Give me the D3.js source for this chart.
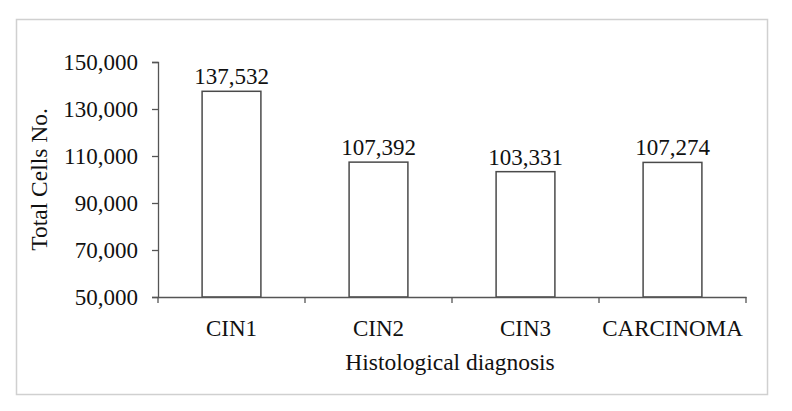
<!DOCTYPE html>
<html lang="en">
<head>
    <meta charset="UTF-8">
    <script src="https://cdn.jsdelivr.net/npm/d3@7"></script>
    <title>Total Cells No.</title>
    <style>
        body {
            margin: 0;
            background: #fff;
        }
        .axis path, .axis line {
            stroke: #555;
            stroke-width: 1.3;
        }
    </style>
</head>
<body>
<script>
    // data
    var categories = ["CIN1", "CIN2", "CIN3", "CARCINOMA"];
    var totals = [137532, 107392, 103331, 107274];
    var yTicks = [50000, 70000, 90000, 110000, 130000, 150000];

    var serif = "'Liberation Serif', 'Times New Roman', Times, 'DejaVu Serif', serif";

    var W = 792, H = 411;
    var margin = {top: 62, right: 46, bottom: 114, left: 158};
    var width = W - margin.left - margin.right,
        height = H - margin.top - margin.bottom;

    var svg = d3.select("body").append("svg")
        .attr("width", W)
        .attr("height", H)
        .attr("font-family", serif);

    // light frame round the chart
    svg.append("rect")
        .attr("x", 16.5)
        .attr("y", 19.5)
        .attr("width", 751)
        .attr("height", 375)
        .attr("fill", "none")
        .attr("stroke", "#d0d0d0")
        .attr("stroke-width", 1.5);

    var g = svg.append("g")
        .attr("transform", "translate(" + margin.left + "," + margin.top + ")");

    var x = d3.scaleBand()
        .domain(categories)
        .range([0, width])
        .padding(0);

    var y = d3.scaleLinear()
        .domain([50000, 150000])
        .range([height, 0]);

    var fmt = d3.format(",");

    // y axis
    g.append("g")
        .attr("class", "axis")
        .call(d3.axisLeft(y).tickValues(yTicks).tickFormat(fmt).tickSize(6).tickSizeOuter(6).tickPadding(14))
        .attr("font-family", serif)
        .attr("font-size", 23)
        .selectAll("text").attr("fill", "#111");

    // bars
    var barW = x.bandwidth() * 0.4;
    g.selectAll("rect.bar")
        .data(totals)
        .enter()
        .append("rect")
        .attr("class", "bar")
        .attr("x", (d, i) => x(categories[i]) + (x.bandwidth() - barW) / 2)
        .attr("y", d => y(d))
        .attr("width", barW)
        .attr("height", d => height - y(d))
        .attr("fill", "#fff")
        .attr("stroke", "#4a4a4a")
        .attr("stroke-width", 1.5);

    // value labels
    g.selectAll("text.val")
        .data(totals)
        .enter()
        .append("text")
        .attr("class", "val")
        .attr("x", (d, i) => x(categories[i]) + x.bandwidth() / 2)
        .attr("y", d => y(d) - 7)
        .attr("text-anchor", "middle")
        .attr("font-family", serif)
        .attr("font-size", 23)
        .attr("fill", "#111")
        .text(d => fmt(d));

    // x axis: labels centred, ticks on the band edges
    var xAxis = g.append("g")
        .attr("class", "axis")
        .attr("transform", "translate(0," + height + ")")
        .call(d3.axisBottom(x).tickSize(0).tickSizeOuter(0).tickPadding(18))
        .attr("font-family", serif)
        .attr("font-size", 23);
    xAxis.selectAll(".tick text").attr("dy", "0.9em").attr("fill", "#111");

    var edges = categories.map(c => x(c)).concat([width]);
    xAxis.selectAll("line.edge")
        .data(edges)
        .enter()
        .append("line")
        .attr("class", "edge")
        .attr("x1", d => d)
        .attr("x2", d => d)
        .attr("y1", 0)
        .attr("y2", 6);

    // axis titles
    svg.append("text")
        .attr("x", margin.left + width / 2 - 2)
        .attr("y", 370)
        .attr("text-anchor", "middle")
        .attr("font-family", serif)
        .attr("font-size", 23.5)
        .attr("fill", "#111")
        .text("Histological diagnosis");

    svg.append("text")
        .attr("transform", "translate(47," + (margin.top + height / 2) + ") rotate(-90)")
        .attr("text-anchor", "middle")
        .attr("font-family", serif)
        .attr("font-size", 23.5)
        .attr("fill", "#111")
        .text("Total Cells No.");
</script>
</body>
</html>
